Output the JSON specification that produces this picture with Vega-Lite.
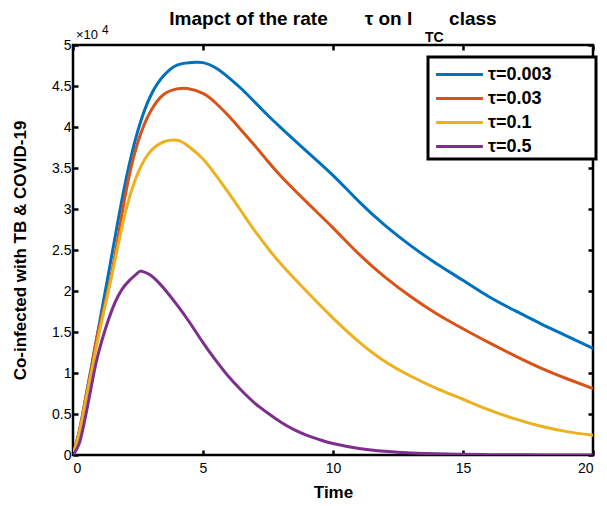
{
  "$schema": "https://vega.github.io/schema/vega-lite/v6.json",
  "autosize": "none",
  "width": 520,
  "height": 410,
  "padding": {"left": 73, "top": 45, "right": 14, "bottom": 51},
  "background": "white",
  "config": {
    "font": "Liberation Sans",
    "view": {"stroke": "black", "strokeWidth": 2.5},
    "axis": {"grid": false, "domain": false, "tickColor": "black", "tickWidth": 2.5, "tickSize": -5, "labelColor": "black", "labelFontSize": 14, "titleColor": "black", "titleFontSize": 17, "titleFontWeight": "bold", "labelFont": "Liberation Sans", "titleFont": "Liberation Sans"}
  },
  "title": {"text": "Imapct of the rate\u00a0\u00a0\u00a0\u00a0\u00a0\u00a0\u00a0τ on I\u00a0\u00a0\u00a0\u00a0\u00a0\u00a0\u00a0class", "fontSize": 19, "fontWeight": "bold", "color": "black", "offset": 2, "dy": 7, "anchor": "middle", "frame": "group", "font": "Liberation Sans"},
  "datasets": {
    "curves": [
      {"t": 0, "value": 0, "series": "τ=0.003"},
      {"t": 0.25, "value": 3000, "series": "τ=0.003"},
      {"t": 0.5, "value": 7200, "series": "τ=0.003"},
      {"t": 0.75, "value": 11500, "series": "τ=0.003"},
      {"t": 1, "value": 15800, "series": "τ=0.003"},
      {"t": 1.5, "value": 24500, "series": "τ=0.003"},
      {"t": 2, "value": 33000, "series": "τ=0.003"},
      {"t": 2.5, "value": 39600, "series": "τ=0.003"},
      {"t": 3, "value": 43900, "series": "τ=0.003"},
      {"t": 3.5, "value": 46300, "series": "τ=0.003"},
      {"t": 4, "value": 47550, "series": "τ=0.003"},
      {"t": 4.5, "value": 47850, "series": "τ=0.003"},
      {"t": 5, "value": 47850, "series": "τ=0.003"},
      {"t": 5.5, "value": 47200, "series": "τ=0.003"},
      {"t": 6, "value": 46000, "series": "τ=0.003"},
      {"t": 6.5, "value": 44600, "series": "τ=0.003"},
      {"t": 7, "value": 43000, "series": "τ=0.003"},
      {"t": 7.5, "value": 41400, "series": "τ=0.003"},
      {"t": 8, "value": 39900, "series": "τ=0.003"},
      {"t": 9, "value": 37000, "series": "τ=0.003"},
      {"t": 10, "value": 34100, "series": "τ=0.003"},
      {"t": 11, "value": 30900, "series": "τ=0.003"},
      {"t": 12, "value": 28000, "series": "τ=0.003"},
      {"t": 13, "value": 25500, "series": "τ=0.003"},
      {"t": 14, "value": 23300, "series": "τ=0.003"},
      {"t": 15, "value": 21300, "series": "τ=0.003"},
      {"t": 16, "value": 19300, "series": "τ=0.003"},
      {"t": 17, "value": 17600, "series": "τ=0.003"},
      {"t": 18, "value": 16000, "series": "τ=0.003"},
      {"t": 19, "value": 14500, "series": "τ=0.003"},
      {"t": 20, "value": 13000, "series": "τ=0.003"},
      {"t": 0, "value": 0, "series": "τ=0.03"},
      {"t": 0.25, "value": 3000, "series": "τ=0.03"},
      {"t": 0.5, "value": 7100, "series": "τ=0.03"},
      {"t": 0.75, "value": 11300, "series": "τ=0.03"},
      {"t": 1, "value": 15500, "series": "τ=0.03"},
      {"t": 1.5, "value": 22400, "series": "τ=0.03"},
      {"t": 2, "value": 31500, "series": "τ=0.03"},
      {"t": 2.5, "value": 38200, "series": "τ=0.03"},
      {"t": 3, "value": 42000, "series": "τ=0.03"},
      {"t": 3.5, "value": 44000, "series": "τ=0.03"},
      {"t": 4, "value": 44650, "series": "τ=0.03"},
      {"t": 4.4, "value": 44700, "series": "τ=0.03"},
      {"t": 5, "value": 44100, "series": "τ=0.03"},
      {"t": 5.5, "value": 42900, "series": "τ=0.03"},
      {"t": 6, "value": 41300, "series": "τ=0.03"},
      {"t": 6.5, "value": 39500, "series": "τ=0.03"},
      {"t": 7, "value": 37700, "series": "τ=0.03"},
      {"t": 7.5, "value": 35800, "series": "τ=0.03"},
      {"t": 8, "value": 34000, "series": "τ=0.03"},
      {"t": 9, "value": 30800, "series": "τ=0.03"},
      {"t": 10, "value": 27700, "series": "τ=0.03"},
      {"t": 11, "value": 24500, "series": "τ=0.03"},
      {"t": 12, "value": 21700, "series": "τ=0.03"},
      {"t": 13, "value": 19300, "series": "τ=0.03"},
      {"t": 14, "value": 17200, "series": "τ=0.03"},
      {"t": 15, "value": 15400, "series": "τ=0.03"},
      {"t": 16, "value": 13700, "series": "τ=0.03"},
      {"t": 17, "value": 12100, "series": "τ=0.03"},
      {"t": 18, "value": 10600, "series": "τ=0.03"},
      {"t": 19, "value": 9300, "series": "τ=0.03"},
      {"t": 20, "value": 8100, "series": "τ=0.03"},
      {"t": 0, "value": 0, "series": "τ=0.1"},
      {"t": 0.25, "value": 2800, "series": "τ=0.1"},
      {"t": 0.5, "value": 6800, "series": "τ=0.1"},
      {"t": 0.75, "value": 10800, "series": "τ=0.1"},
      {"t": 1, "value": 14800, "series": "τ=0.1"},
      {"t": 1.5, "value": 22000, "series": "τ=0.1"},
      {"t": 2, "value": 29400, "series": "τ=0.1"},
      {"t": 2.5, "value": 34400, "series": "τ=0.1"},
      {"t": 3, "value": 37100, "series": "τ=0.1"},
      {"t": 3.5, "value": 38200, "series": "τ=0.1"},
      {"t": 3.8, "value": 38400, "series": "τ=0.1"},
      {"t": 4.1, "value": 38300, "series": "τ=0.1"},
      {"t": 4.5, "value": 37500, "series": "τ=0.1"},
      {"t": 5, "value": 36100, "series": "τ=0.1"},
      {"t": 5.5, "value": 34100, "series": "τ=0.1"},
      {"t": 6, "value": 31900, "series": "τ=0.1"},
      {"t": 6.5, "value": 29600, "series": "τ=0.1"},
      {"t": 7, "value": 27300, "series": "τ=0.1"},
      {"t": 7.5, "value": 25200, "series": "τ=0.1"},
      {"t": 8, "value": 23300, "series": "τ=0.1"},
      {"t": 9, "value": 19900, "series": "τ=0.1"},
      {"t": 10, "value": 16700, "series": "τ=0.1"},
      {"t": 11, "value": 13800, "series": "τ=0.1"},
      {"t": 12, "value": 11400, "series": "τ=0.1"},
      {"t": 13, "value": 9600, "series": "τ=0.1"},
      {"t": 14, "value": 8100, "series": "τ=0.1"},
      {"t": 15, "value": 6800, "series": "τ=0.1"},
      {"t": 16, "value": 5500, "series": "τ=0.1"},
      {"t": 17, "value": 4400, "series": "τ=0.1"},
      {"t": 18, "value": 3500, "series": "τ=0.1"},
      {"t": 19, "value": 2850, "series": "τ=0.1"},
      {"t": 20, "value": 2400, "series": "τ=0.1"},
      {"t": 0, "value": 0, "series": "τ=0.5"},
      {"t": 0.25, "value": 1500, "series": "τ=0.5"},
      {"t": 0.5, "value": 5000, "series": "τ=0.5"},
      {"t": 0.75, "value": 9100, "series": "τ=0.5"},
      {"t": 1, "value": 12700, "series": "τ=0.5"},
      {"t": 1.5, "value": 17700, "series": "τ=0.5"},
      {"t": 2, "value": 20700, "series": "τ=0.5"},
      {"t": 2.5, "value": 22250, "series": "τ=0.5"},
      {"t": 2.65, "value": 22400, "series": "τ=0.5"},
      {"t": 3, "value": 21900, "series": "τ=0.5"},
      {"t": 3.5, "value": 20300, "series": "τ=0.5"},
      {"t": 4, "value": 18300, "series": "τ=0.5"},
      {"t": 4.5, "value": 16100, "series": "τ=0.5"},
      {"t": 5, "value": 13700, "series": "τ=0.5"},
      {"t": 5.5, "value": 11500, "series": "τ=0.5"},
      {"t": 6, "value": 9500, "series": "τ=0.5"},
      {"t": 6.5, "value": 7800, "series": "τ=0.5"},
      {"t": 7, "value": 6300, "series": "τ=0.5"},
      {"t": 7.5, "value": 5100, "series": "τ=0.5"},
      {"t": 8, "value": 4000, "series": "τ=0.5"},
      {"t": 8.5, "value": 3100, "series": "τ=0.5"},
      {"t": 9, "value": 2400, "series": "τ=0.5"},
      {"t": 9.5, "value": 1850, "series": "τ=0.5"},
      {"t": 10, "value": 1400, "series": "τ=0.5"},
      {"t": 11, "value": 800, "series": "τ=0.5"},
      {"t": 12, "value": 450, "series": "τ=0.5"},
      {"t": 13, "value": 250, "series": "τ=0.5"},
      {"t": 14, "value": 140, "series": "τ=0.5"},
      {"t": 15, "value": 80, "series": "τ=0.5"},
      {"t": 16, "value": 45, "series": "τ=0.5"},
      {"t": 17, "value": 25, "series": "τ=0.5"},
      {"t": 18, "value": 15, "series": "τ=0.5"},
      {"t": 19, "value": 10, "series": "τ=0.5"},
      {"t": 20, "value": 5, "series": "τ=0.5"}
    ],
    "notes": [{"label": "TC"}]
  },
  "resolve": {"axis": {"x": "independent", "y": "independent"}},
  "layer": [
    {
      "data": {"name": "curves"},
      "mark": {"type": "line", "strokeWidth": 3, "interpolate": "natural", "clip": true},
      "encoding": {
        "x": {"field": "t", "type": "quantitative", "scale": {"domain": [0, 20], "nice": false},
              "axis": {"values": [0, 5, 10, 15, 20], "title": "Time", "labelPadding": 11, "titlePadding": 9}},
        "y": {"field": "value", "type": "quantitative", "scale": {"domain": [0, 50000], "nice": false},
              "axis": {"values": [0, 5000, 10000, 15000, 20000, 25000, 30000, 35000, 40000, 45000, 50000], "labelExpr": "'' + datum.value / 10000", "title": "Co-infected with TB & COVID-19", "labelPadding": 7, "titlePadding": 22}},
        "color": {"field": "series", "type": "nominal", "sort": ["τ=0.003", "τ=0.03", "τ=0.1", "τ=0.5"],
                  "scale": {"domain": ["τ=0.003", "τ=0.03", "τ=0.1", "τ=0.5"], "range": ["#0072BD", "#D95319", "#EDB120", "#7E2F8E"]},
                  "legend": {"title": "MMM", "titleOrient": "right", "titleOpacity": 0, "titleFontSize": 14, "titlePadding": 6,
                             "orient": "none", "legendX": 355, "legendY": 12, "padding": 3, "symbolOffset": 14,
                             "symbolType": "M-1.8,0H1.8", "symbolSize": 676, "symbolStrokeWidth": 3, "labelFontSize": 18, "labelFontWeight": "bold", "labelColor": "black", "labelOffset": 14, "rowPadding": 0, "strokeColor": "black", "fillColor": "white",
                             "encode": {"legend": {"update": {"strokeWidth": {"value": 3}}}}}}
      }
    },
    {
      "data": {"name": "notes"},
      "mark": {"type": "text", "fontSize": 14, "fontWeight": "bold", "align": "center", "baseline": "middle", "dy": -7, "clip": false, "font": "Liberation Sans"},
      "encoding": {
        "x": {"datum": 13.9, "type": "quantitative", "axis": {"orient": "top", "values": [0, 5, 10, 15, 20], "labels": false, "title": null}},
        "y": {"datum": 50000, "type": "quantitative", "axis": {"orient": "right", "values": [0, 5000, 10000, 15000, 20000, 25000, 30000, 35000, 40000, 45000, 50000], "labels": false, "title": null}},
        "text": {"field": "label"}
      }
    },
    {
      "data": {"values": [{"label": "×10"}]},
      "mark": {"type": "text", "fontSize": 13, "align": "left", "baseline": "bottom", "dx": 3, "dy": -3, "clip": false, "font": "Liberation Sans"},
      "encoding": {
        "x": {"datum": 0, "type": "quantitative", "axis": null},
        "y": {"datum": 50000, "type": "quantitative", "axis": null},
        "text": {"field": "label"}
      }
    },
    {
      "data": {"values": [{"label": "4"}]},
      "mark": {"type": "text", "fontSize": 12, "align": "left", "baseline": "bottom", "dx": 29, "dy": -8, "clip": false, "font": "Liberation Sans"},
      "encoding": {
        "x": {"datum": 0, "type": "quantitative", "axis": null},
        "y": {"datum": 50000, "type": "quantitative", "axis": null},
        "text": {"field": "label"}
      }
    }
  ]
}
